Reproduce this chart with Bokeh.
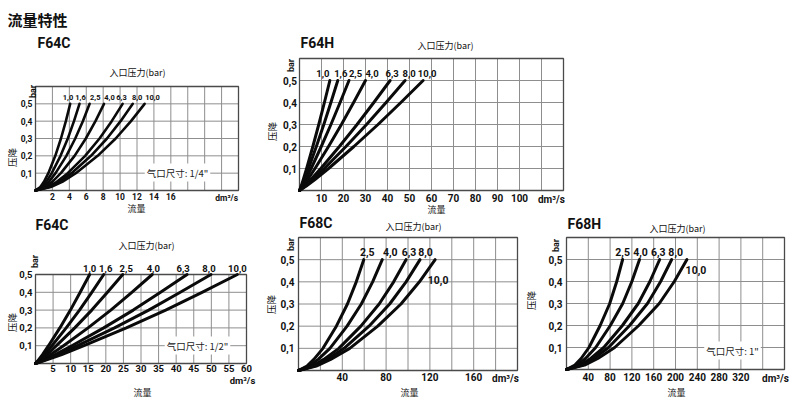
from math import pi
from bokeh.plotting import figure
from bokeh.models import Range1d, Label, LabelSet, ColumnDataSource
from bokeh.embed import file_html
from bokeh.resources import INLINE
from bokeh.core.properties import value

LAT = "Roboto"
CJK = "Noto Sans CJK SC"
GRID = "#8e8e8e"
FRAME = "#4a4a4a"
INK = "#111111"

# ---------------- data ----------------
pressures_7 = ["1,0", "1,6", "2,5", "4,0", "6,3", "8,0", "10,0"]
pressures_5 = ["2,5", "4,0", "6,3", "8,0", "10,0"]
dp_levels = [0, 0.02, 0.05, 0.1, 0.2, 0.3, 0.4, 0.5]  # pressure drop, bar

# F64C, port 1/4"  (flow dm3/s at each dp level)
f64c_q = [
    [0, 0.57, 1.00, 1.52, 2.34, 3.01, 3.59, 4.1],
    [0, 0.73, 1.27, 1.92, 2.96, 3.82, 4.55, 5.2],
    [0, 0.90, 1.57, 2.37, 3.65, 4.70, 5.60, 6.4],
    [0, 1.13, 1.98, 3.00, 4.62, 5.95, 7.09, 8.1],
    [0, 1.44, 2.52, 3.81, 5.87, 7.57, 9.01, 10.3],
    [0, 1.61, 2.82, 4.26, 6.56, 8.45, 10.06, 11.5],
    [0, 1.81, 3.16, 4.77, 7.35, 9.48, 11.29, 12.9],
]
# F64H
f64h_q = [
    [0, 0.76, 1.73, 3.24, 6.07, 8.76, 11.32, 13.8],
    [0, 0.96, 2.18, 4.09, 7.66, 11.05, 14.27, 17.4],
    [0, 1.24, 2.81, 5.29, 9.90, 14.29, 18.45, 22.5],
    [0, 1.65, 3.75, 7.05, 13.2, 19.05, 24.6, 30.0],
    [0, 2.27, 5.15, 9.68, 18.13, 26.16, 33.78, 41.2],
    [0, 2.64, 6.00, 11.28, 21.12, 30.48, 39.36, 48.0],
    [0, 3.09, 7.03, 13.21, 24.73, 35.69, 46.08, 56.2],
]
# F64C, port 1/2"
f64c2_q = [
    [0, 0.85, 2.00, 3.70, 6.93, 9.93, 12.71, 15.4],
    [0, 1.07, 2.52, 4.66, 8.73, 12.51, 16.01, 19.4],
    [0, 1.36, 3.22, 5.95, 11.16, 16.0, 20.46, 24.8],
    [0, 1.83, 4.32, 7.97, 14.94, 21.41, 27.39, 33.2],
    [0, 2.37, 5.60, 10.34, 19.4, 27.8, 35.56, 43.1],
    [0, 2.74, 6.49, 11.98, 22.46, 32.19, 41.17, 49.9],
    [0, 3.16, 7.46, 13.78, 25.83, 37.02, 47.36, 57.4],
]
# F68C
f68c_q = [
    [0, 7.75, 14.0, 22.35, 34.57, 44.7, 52.75, 59.6],
    [0, 9.95, 17.98, 28.69, 44.37, 57.38, 67.7, 76.5],
    [0, 12.77, 23.08, 36.83, 56.96, 73.65, 86.91, 98.2],
    [0, 14.43, 26.09, 41.63, 64.38, 83.25, 98.24, 111.0],
    [0, 16.22, 29.33, 46.8, 72.38, 93.6, 110.45, 124.8],
]
# F68H, port 1"
f68h_q = [
    [0, 15.45, 26.78, 41.2, 61.8, 79.31, 92.19, 103.0],
    [0, 20.1, 34.84, 53.6, 80.4, 103.18, 119.93, 134.0],
    [0, 25.65, 44.46, 68.4, 102.6, 131.67, 153.05, 171.0],
    [0, 28.95, 50.18, 77.2, 115.8, 148.61, 172.74, 193.0],
    [0, 33.15, 57.46, 88.4, 132.6, 170.17, 197.8, 221.0],
]

y_ticks = [0.1, 0.2, 0.3, 0.4, 0.5]
y_tick_labels = ["0,1", "0,2", "0,3", "0,4", "0,5"]
unit_label = "dm³/s"

x_grid_a = [2, 4, 6, 8, 10, 12, 14, 16, 18, 20, 22]
x_ticks_a = [2, 4, 6, 8, 10, 12, 14, 16]
x_grid_b = [10, 20, 30, 40, 50, 60, 70, 80, 90, 100, 110]
x_ticks_b = [10, 20, 30, 40, 50, 60, 70, 80, 90, 100]
x_grid_c = [5, 10, 15, 20, 25, 30, 35, 40, 45, 50, 55]
x_ticks_c = [5, 10, 15, 20, 25, 30, 35, 40, 45, 50, 55, 60]
x_grid_d = [20, 40, 60, 80, 100, 120, 140, 160, 180]
x_ticks_d = [40, 80, 120, 160]
x_grid_e = [40, 80, 120, 160, 200, 240, 280, 320, 360]
x_ticks_e = [40, 80, 120, 160, 200, 240, 280, 320]

# ---------------- page ----------------
W, H = 790, 408
p = figure(width=W, height=H, x_range=Range1d(0, W), y_range=Range1d(0, H),
           x_axis_location=None, y_axis_location=None, min_border=0, title=None,
           output_backend="svg", toolbar_location=None, tools="")
p.outline_line_color = None
p.grid.grid_line_color = None
p.background_fill_color = "white"
p.border_fill_color = "white"

# panel frames in page pixels: left, right, top, bottom, xmax, ymax
frames = {
    "a": (35, 238, 86, 190, 24, 0.6),
    "b": (299, 563, 58, 190, 120, 0.6),
    "c": (35, 246, 274, 363, 60, 0.5),
    "d": (298, 517, 237, 370, 200, 0.6),
    "e": (566, 784, 237, 369, 400, 0.6),
}
xr, yr = {}, {}
for k, (L, R, T, B, xm, ym) in frames.items():
    sx = (R - L) / xm
    sy = (B - T) / ym
    xr[k] = Range1d(-L / sx, (W - L) / sx)
    yr[k] = Range1d(-(H - B) / sy, B / sy)
p.extra_x_ranges = xr
p.extra_y_ranges = yr


def text(px, py, s, font=CJK, size="9px", bold=False, angle=0, align="center",
         color=INK, bg=None):
    kw = dict(background_fill_color=bg, padding=2) if bg else {}
    p.add_layout(Label(x=px, y=H - py, text=s, text_font=font, text_font_size=size,
                       text_font_style="bold" if bold else "normal",
                       text_align=align, text_baseline="middle", angle=angle,
                       text_color=color, **kw))


def panel(k, xgrid, xticks, unit_x, unit_off, flows, names, lab_dx,
          lab_dy, lw, tick_size, lab_size, xt_dy, yt_dx):
    xm, ym = frames[k][4], frames[k][5]
    kw = dict(x_range_name=k, y_range_name=k)
    yg = [t for t in y_ticks if t < ym]
    p.segment(x0=xgrid, y0=[0] * len(xgrid), x1=xgrid, y1=[ym] * len(xgrid),
              line_color=GRID, line_width=1, **kw)
    p.segment(x0=[0] * len(yg), y0=yg, x1=[xm] * len(yg), y1=yg,
              line_color=GRID, line_width=1, **kw)
    p.quad(left=[0], right=[xm], bottom=[0], top=[ym], fill_color=None,
           line_color=FRAME, line_width=1.3, **kw)
    p.multi_line(xs=flows, ys=[dp_levels] * len(flows), line_color="#0a0a0a",
                 line_width=lw, line_join="round", line_cap="round", **kw)
    common = dict(text_font=value(LAT), text_font_style="bold",
                  text_color=INK, **kw)
    # curve labels (inlet pressure)
    src = ColumnDataSource(dict(x=[f[-1] for f in flows],
                                y=[dp_levels[-1]] * len(flows),
                                t=names, xo=lab_dx, yo=lab_dy))
    p.add_layout(LabelSet(x="x", y="y", text="t", x_offset="xo", y_offset="yo",
                          source=src, text_font_size=lab_size,
                          text_align="center", text_baseline="middle", **common))
    # x tick labels
    xs = ColumnDataSource(dict(x=xticks, y=[0] * len(xticks),
                               t=[str(v) for v in xticks]))
    p.add_layout(LabelSet(x="x", y="y", text="t", y_offset=xt_dy, source=xs,
                          text_font_size=tick_size, text_align="center",
                          text_baseline="top", **common))
    # unit label
    p.add_layout(Label(x=unit_x, y=0, text=unit_label, x_offset=unit_off[0],
                       y_offset=unit_off[1], text_font=LAT, text_font_style="bold",
                       text_font_size=tick_size, text_align="center",
                       text_baseline="top", text_color=INK,
                       x_range_name=k, y_range_name=k))
    # y tick labels
    ys = ColumnDataSource(dict(x=[0] * len(y_ticks), y=y_ticks, t=y_tick_labels))
    p.add_layout(LabelSet(x="x", y="y", text="t", x_offset=yt_dx, source=ys,
                          text_font_size=tick_size, text_align="right",
                          text_baseline="middle", **common))


def furniture(title_xy, sub_xy, drop_xy, bar_xy, flow_xy):
    text(title_xy[0], title_xy[1], title_xy[2], font=LAT, size="14px", bold=True,
         align="left")
    text(sub_xy[0], sub_xy[1], "入口压力(bar)", size="9px")
    text(drop_xy[0], drop_xy[1], "压降", size="9.5px", angle=pi / 2)
    text(bar_xy[0], bar_xy[1], "bar", font=LAT, size="9px", bold=True, angle=pi / 2)
    text(flow_xy[0], flow_xy[1], "流量", size="9px")


# ---- F64C 1/4"
panel("a", x_grid_a, x_ticks_a, 22.6, (0, -2), f64c_q, pressures_7,
      [-2.2, 1, 5.6, 5.5, -1.1, 4.4, 7.9], [6] * 7, 2.6, "8.5px", "7.5px", -2, -3)
text(7, 19, "流量特性", size="15px", bold=True, align="left")
furniture((37, 42, "F64C"), (137, 72), (11, 157), (32, 91), (136, 208))
text(177, 172, "气口尺寸: 1/4\"", size="9.5px", bg="white", color="#222222")

# ---- F64H
panel("b", x_grid_b, x_ticks_b, 114.5, (0, -3), f64h_q, pressures_7,
      [-7, 3, 6.5, 6.5, 2, 4, 4], [7] * 7, 3, "10px", "9.5px", -3, -2.5)
furniture((300, 42, "F64H"), (445, 45), (271, 131), (290, 65), (436, 209))

# ---- F64C 1/2"
panel("c", x_grid_c, x_ticks_c, 60, (-4, -11), f64c2_q, pressures_7,
      [0, 2, 3.5, 1, -4, -2, 0], [6] * 7, 3, "9.5px", "9.5px", -1, -3)
furniture((35, 224, "F64C"), (146, 245), (11, 322), (34, 261), (142, 392))
text(197, 345, "气口尺寸: 1/2\"", size="9.5px", bg="white", color="#222222")

# ---- F68C
panel("d", x_grid_d, x_ticks_d, 189, (0, -2), f68c_q, pressures_5,
      [3.5, 8, 3, 5.5, 3], [7.5, 7.5, 7.5, 7.5, -20], 3, "10px", "10.5px", -2, -4)
furniture((299, 222, "F68C"), (413, 226), (270, 304), (290, 244), (409, 392))

# ---- F68H 1"
panel("e", x_grid_e, x_ticks_e, 383.5, (0, -3), f68h_q, pressures_5,
      [0, 1, -1.5, 4, 9], [7.5, 7.5, 7.5, 7.5, -10.5], 3, "10px", "10.5px", -3, -4)
furniture((567, 223, "F68H"), (677, 228), (530, 300), (555, 245), (676, 392))
text(732, 350, "气口尺寸: 1\"", size="9.5px", bg="white", color="#222222")

open("out.html", "w").write(file_html(p, INLINE))
